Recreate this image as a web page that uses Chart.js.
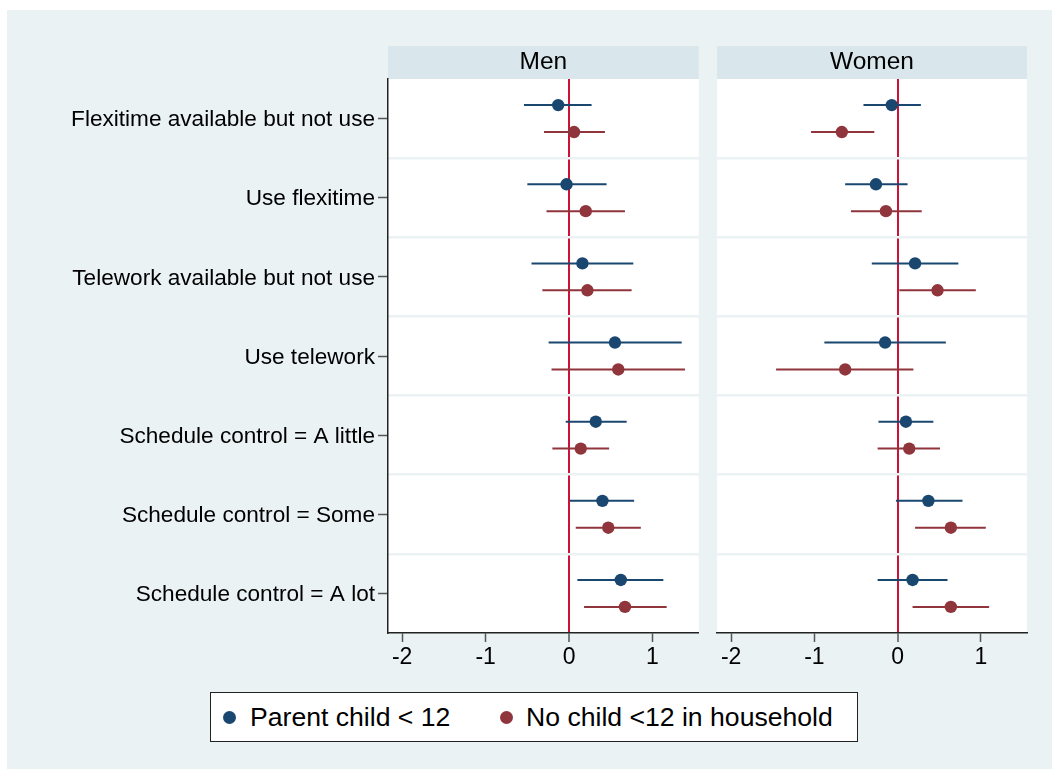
<!DOCTYPE html>
<html>
<head>
<meta charset="utf-8">
<script src="https://cdn.jsdelivr.net/npm/chart.js@4"></script>
<style>
  body { margin: 0; width: 1052px; height: 769px; background: #fff; position: relative; overflow: hidden; font-family: "Liberation Sans", Arial, sans-serif; }
  #bg { position: absolute; left: 7px; top: 10px; right: 0; bottom: 0; background: #eaf2f3; }
  #men { position: absolute; left: 0; top: 0; }
  #women { position: absolute; left: 705px; top: 0; }
  #legend { position: absolute; left: 210px; top: 692px; width: 648px; height: 50px; box-sizing: border-box;
            border: 1.5px solid #222; background: #fff; font-size: 26.6px; color: #000; }
  #legend span.item { position: absolute; top: 9px; white-space: nowrap; }
  #legend i { position: absolute; width: 13px; height: 13px; border-radius: 50%; top: 18px; }
</style>
</head>
<body>
<div id="bg"></div>
<canvas id="men" width="705" height="769"></canvas>
<canvas id="women" width="347" height="769"></canvas>
<div id="legend"></div>
<script>
const categories = [
  "Flexitime available but not use",
  "Use flexitime",
  "Telework available but not use",
  "Use telework",
  "Schedule control = A little",
  "Schedule control = Some",
  "Schedule control = A lot"
];
const seriesNames = ["Parent child < 12", "No child <12 in household"];
const seriesColors = ["#1a476f", "#90353b"];

const menParent = [-0.13, -0.03, 0.16, 0.55, 0.32, 0.40, 0.62];
const menParentLo = [-0.54, -0.50, -0.45, -0.245, -0.04, 0.01, 0.10];
const menParentHi = [0.27, 0.45, 0.77, 1.35, 0.69, 0.78, 1.13];
const menNoChild = [0.06, 0.20, 0.22, 0.59, 0.14, 0.47, 0.67];
const menNoChildLo = [-0.30, -0.27, -0.32, -0.21, -0.20, 0.08, 0.18];
const menNoChildHi = [0.43, 0.67, 0.75, 1.39, 0.48, 0.86, 1.17];

const womenParent = [-0.07, -0.26, 0.21, -0.15, 0.10, 0.37, 0.18];
const womenParentLo = [-0.41, -0.63, -0.31, -0.88, -0.23, -0.02, -0.24];
const womenParentHi = [0.28, 0.12, 0.73, 0.58, 0.43, 0.78, 0.60];
const womenNoChild = [-0.67, -0.14, 0.48, -0.63, 0.14, 0.64, 0.64];
const womenNoChildLo = [-1.04, -0.56, 0.02, -1.46, -0.24, 0.21, 0.18];
const womenNoChildHi = [-0.28, 0.29, 0.94, 0.19, 0.51, 1.06, 1.10];

const xTicks = [-2, -1, 0, 1];

Chart.defaults.font.family = '"Liberation Sans", Arial, sans-serif';
Chart.defaults.color = "#000";

// blue above, red below the category line
const shift = [-0.17, 0.17];

// white plot area + header strip
const panelPlugin = {
  id: "panel",
  beforeDraw(chart) {
    const { ctx, chartArea: a } = chart;
    ctx.save();
    ctx.fillStyle = "#fff";
    ctx.fillRect(a.left, a.top, a.right - a.left, a.bottom - a.top);
    const t = chart.titleBlock;
    ctx.fillStyle = "#d9e6eb";
    ctx.fillRect(a.left, t.top, a.right - a.left, a.top - t.top);
    ctx.restore();
  }
};

function makeDatasets(sets) {
  const ds = [];
  sets.forEach((s, k) => {
    ds.push({
      type: "scatter",
      data: s.est.map((v, i) => ({ x: v, y: i + shift[k] })),
      backgroundColor: seriesColors[k],
      borderWidth: 0,
      pointRadius: 6.2,
      order: 0
    });
    ds.push({
      type: "bar",
      data: s.lo.map((v, i) => ({ x: [v, s.hi[i]], y: i + shift[k] })),
      backgroundColor: seriesColors[k],
      borderWidth: 0,
      grouped: false,
      maxBarThickness: 2,
      order: 1
    });
  });
  return ds;
}

function makePanel(id, title, sets, showLabels, pad) {
  const yMin = -0.5, yMax = categories.length - 0.5;
  return new Chart(document.getElementById(id), {
    type: "bar",
    data: { datasets: makeDatasets(sets) },
    plugins: [panelPlugin],
    options: {
      indexAxis: "y",
      responsive: false,
      animation: false,
      layout: { padding: pad },
      plugins: {
        legend: { display: false },
        tooltip: { enabled: false },
        title: {
          display: true,
          text: title,
          fullSize: false,
          font: { size: 24.5, weight: "normal", lineHeight: 1.2 },
          padding: { top: 1.5, bottom: 2.1 }
        }
      },
      scales: {
        x: {
          type: "linear",
          min: -2.17,
          max: 1.555,
          afterBuildTicks: s => { s.ticks = xTicks.map(v => ({ value: v })); },
          afterFit: s => { s.height = 40; },
          ticks: { font: { size: 23 }, padding: 2, maxRotation: 0 },
          grid: {
            drawOnChartArea: true,
            color: c => (c.tick && c.tick.value === 0 ? "#cc1236" : "rgba(0,0,0,0)"),
            lineWidth: c => (c.tick && c.tick.value === 0 ? 2 : 1),
            tickColor: "#555",
            tickWidth: 1.5,
            tickLength: 9
          },
          border: { color: "#222", width: 1.5 }
        },
        y: {
          type: "linear",
          display: showLabels,
          offset: false,
          reverse: true,
          min: yMin,
          max: yMax,
          afterBuildTicks: s => { s.ticks = categories.map((c, i) => ({ value: i })); },
          afterFit: s => { if (showLabels) s.width = 388; },
          ticks: { font: { size: 22.6 }, padding: 3, labelOffset: 1.5, callback: v => categories[v] },
          grid: { offset: false, drawOnChartArea: false, tickColor: "#555", tickWidth: 1.5, tickLength: 10 },
          border: { color: "#222", width: 1.5 }
        },
        ysep: {
          type: "linear",
          position: "right",
          offset: false,
          reverse: true,
          min: yMin,
          max: yMax,
          afterBuildTicks: s => { s.ticks = categories.slice(1).map((c, i) => ({ value: i + 0.5 })); },
          afterFit: s => { s.width = 0; },
          ticks: { display: false },
          grid: { offset: false, drawTicks: false, color: "#eaf2f3", lineWidth: 2.5 },
          border: { display: false }
        }
      }
    }
  });
}

makePanel("men", "Men", [
  { est: menParent, lo: menParentLo, hi: menParentHi },
  { est: menNoChild, lo: menNoChildLo, hi: menNoChildHi }
], true, { top: 46, left: 0, right: 6, bottom: 96 });

makePanel("women", "Women", [
  { est: womenParent, lo: womenParentLo, hi: womenParentHi },
  { est: womenNoChild, lo: womenNoChildLo, hi: womenNoChildHi }
], false, { top: 46, left: 12, right: 25, bottom: 96 });

// legend below both panels
const legendPos = [[12, 39], [289, 315]];
const legend = document.getElementById("legend");
seriesNames.forEach((name, k) => {
  const dot = document.createElement("i");
  dot.style.left = legendPos[k][0] + "px";
  dot.style.background = seriesColors[k];
  legend.appendChild(dot);
  const label = document.createElement("span");
  label.className = "item";
  label.style.left = legendPos[k][1] + "px";
  label.textContent = name;
  legend.appendChild(label);
});
</script>
</body>
</html>
